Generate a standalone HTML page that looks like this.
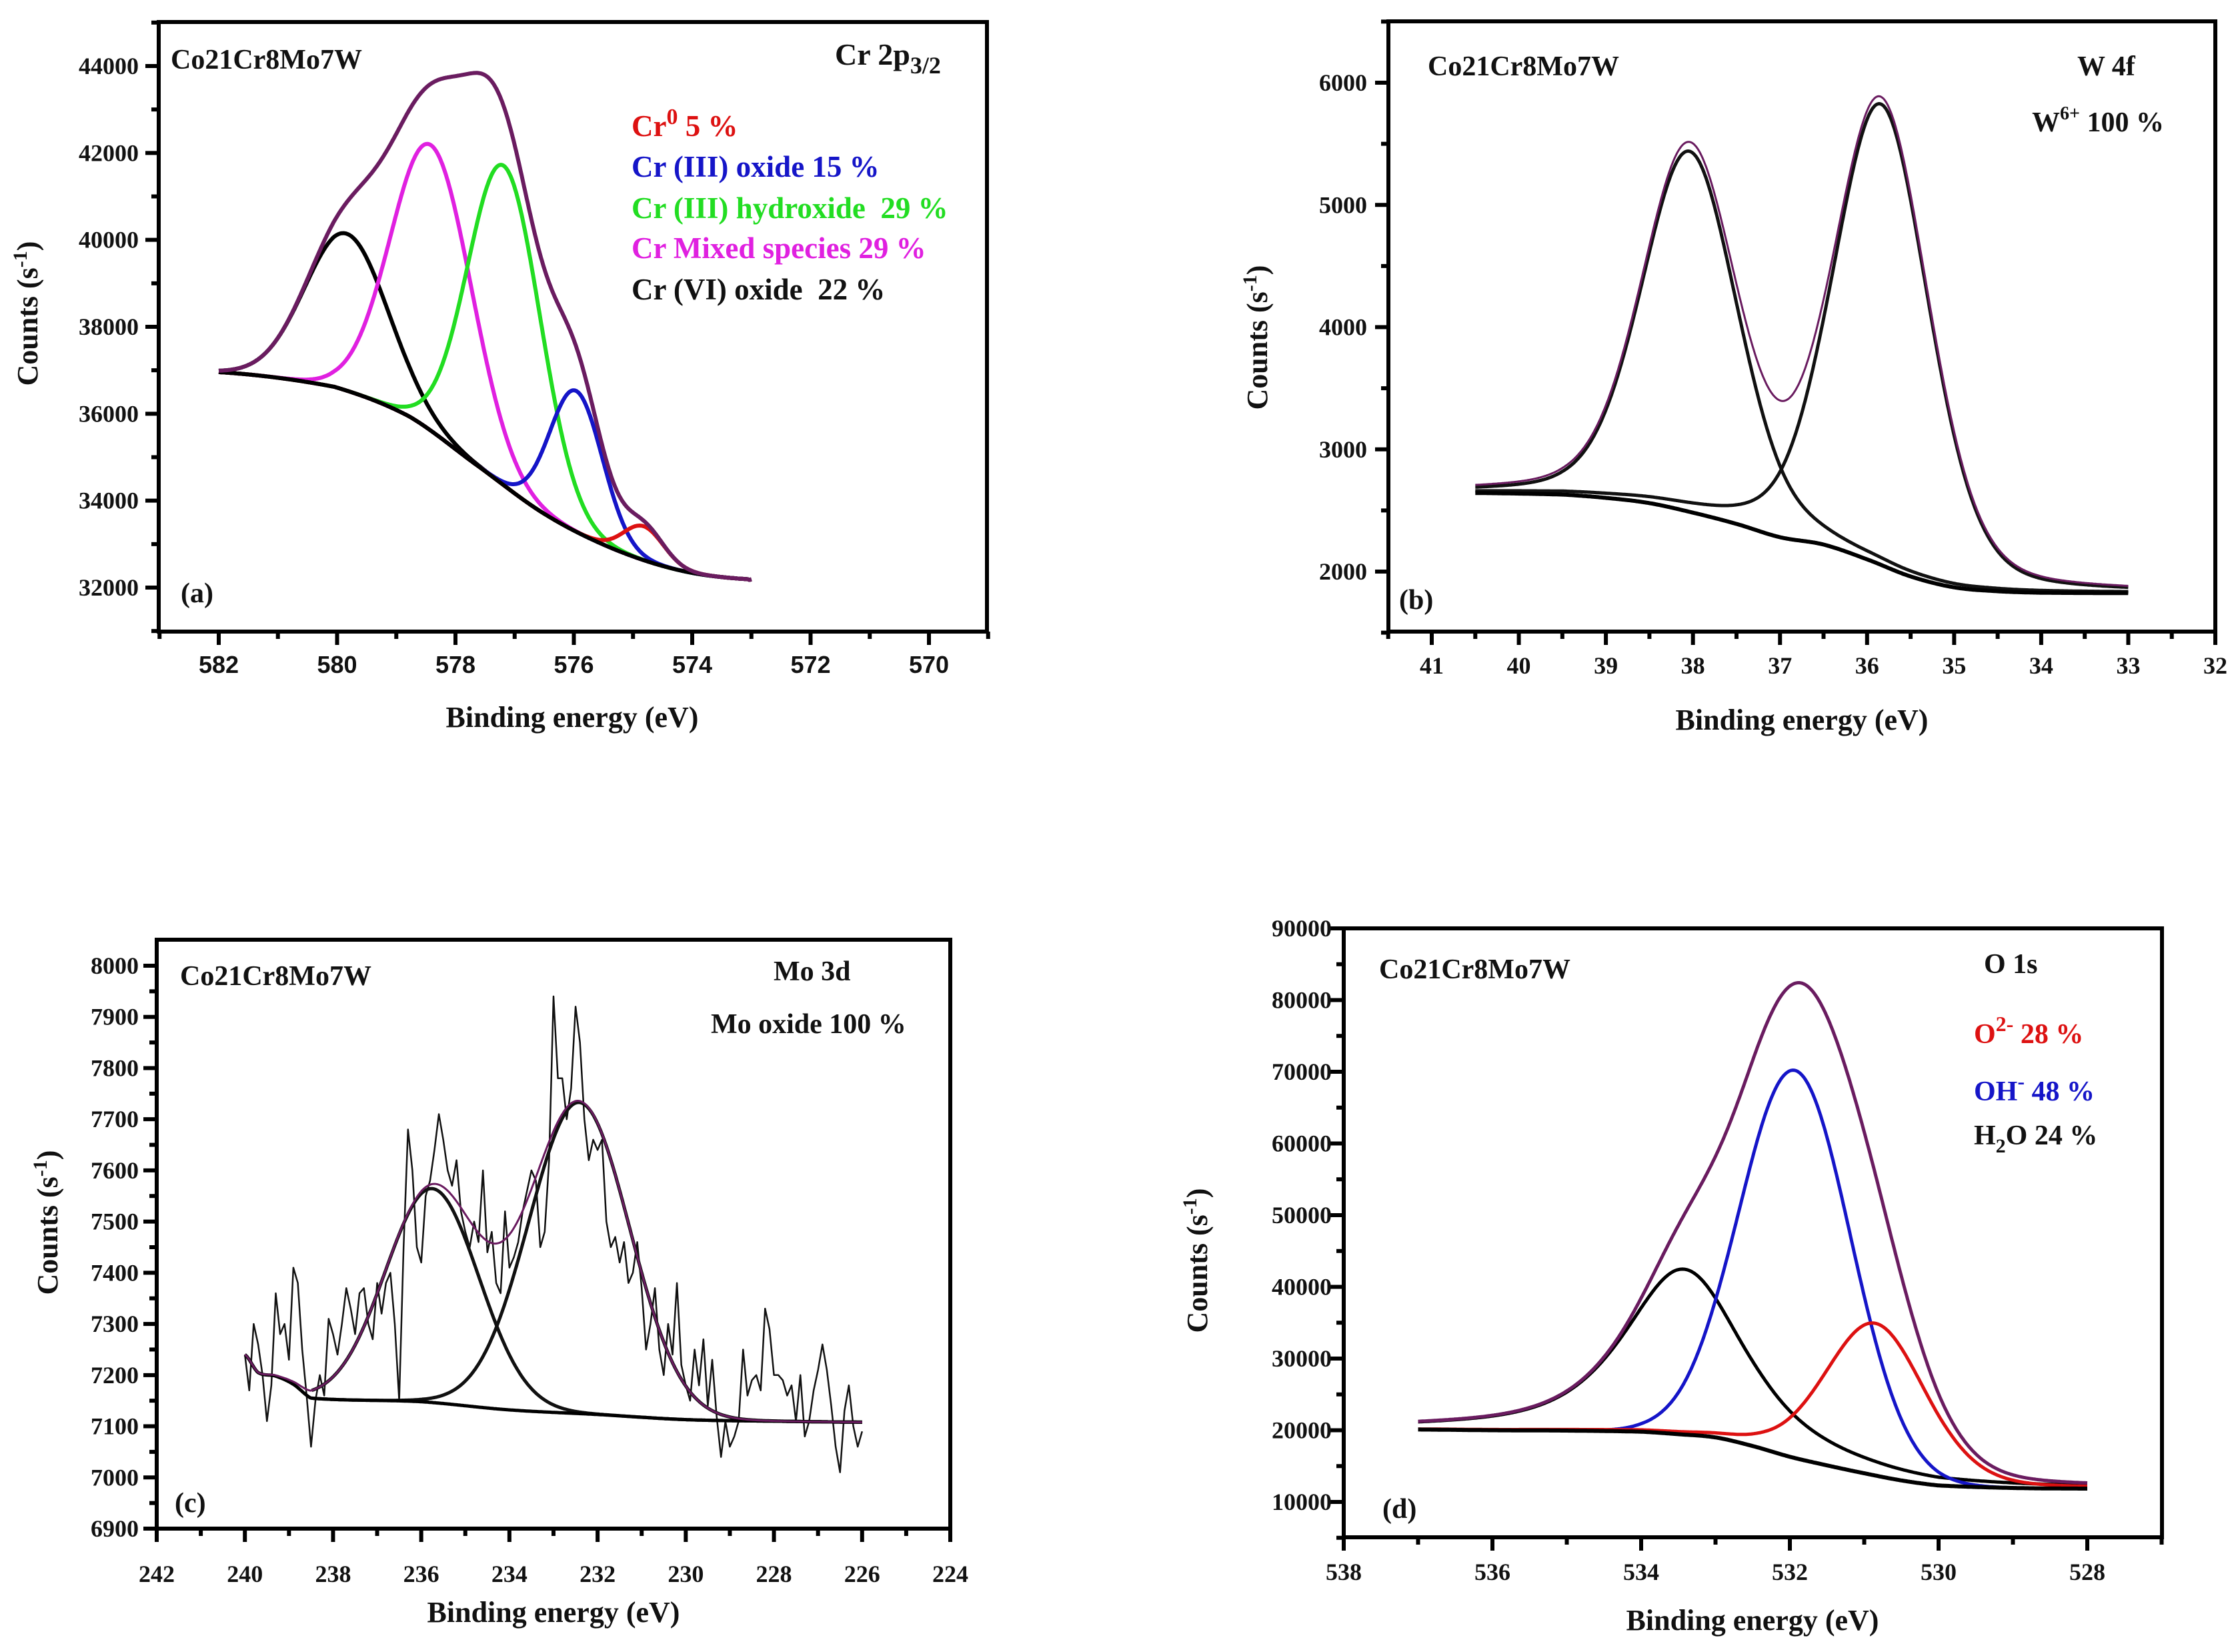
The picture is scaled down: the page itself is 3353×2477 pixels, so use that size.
<!DOCTYPE html>
<html><head><meta charset="utf-8"><style>
html,body{margin:0;padding:0;background:#fff;}
svg{display:block;}
text{font-family:"Liberation Serif",serif;font-weight:bold;fill:#111;}
</style></head><body>
<svg id="fig" width="3353" height="2477" viewBox="0 0 3353 2477" xmlns="http://www.w3.org/2000/svg">
<rect x="0" y="0" width="3353" height="2477" fill="#fff"/>
<g font-size="45">
<text x="256" y="103" font-size="42">Co21Cr8Mo7W</text>
<text x="1252" y="97" font-size="46">Cr 2p<tspan font-size="36" dy="13">3/2</tspan></text>
<text x="947" y="204" style="fill:#dd1111">Cr<tspan font-size="34" dy="-18">0</tspan><tspan dy="18"> 5 %</tspan></text>
<text x="947" y="265" style="fill:#1515c8">Cr (III) oxide 15 %</text>
<text x="947" y="327" xml:space="preserve" style="fill:#22dd22">Cr (III) hydroxide  29 %</text>
<text x="947" y="387" style="fill:#e020e0">Cr Mixed species 29 %</text>
<text x="947" y="449" xml:space="preserve">Cr (VI) oxide  22 %</text>
<text x="271" y="903" font-size="42">(a)</text>
</g>
<g font-size="42">
<text x="2141" y="113">Co21Cr8Mo7W</text>
<text x="3115" y="113">W 4f</text>
<text x="3047" y="197">W<tspan font-size="28" dy="-18">6+</tspan><tspan dy="18"> 100 %</tspan></text>
<text x="2098" y="913">(b)</text>
</g>
<g font-size="42">
<text x="270" y="1477">Co21Cr8Mo7W</text>
<text x="1160" y="1470">Mo 3d</text>
<text x="1066" y="1549">Mo oxide 100 %</text>
<text x="262" y="2267">(c)</text>
</g>
<g font-size="42">
<text x="2068" y="1467">Co21Cr8Mo7W</text>
<text x="2975" y="1459">O 1s</text>
<text x="2960" y="1564" style="fill:#dd1111">O<tspan font-size="32" dy="-18">2-</tspan><tspan dy="18"> 28 %</tspan></text>
<text x="2960" y="1650" style="fill:#1515c8">OH<tspan font-size="32" dy="-18">-</tspan><tspan dy="18"> 48 %</tspan></text>
<text x="2960" y="1716">H<tspan font-size="30" dy="12">2</tspan><tspan dy="-12">O 24 %</tspan></text>
<text x="2073" y="2276">(d)</text>
</g>
</svg>
<script>
// ===== Panel (a) Cr 2p3/2 data =====
const aXTicks = [582, 580, 578, 576, 574, 572, 570];
const aYTicks = [32000, 34000, 36000, 38000, 40000, 42000, 44000];
const aBgX = [582, 580.05, 578.79, 577.64, 576.49, 575.35, 574.2, 573.05, 573];
const aBgY = [36958, 36620, 35944, 34817, 33690, 32901, 32394, 32191, 32190];
const aCenters = [579.84, 578.41, 577.18, 575.96, 574.82];
const aHeights = [3610, 6570, 7350, 3240, 780];
const aFwhm = [1.65, 1.6, 1.44, 1.05, 0.8];
const aEta = [0, 0, 0, 0, 0];
const aNames = ['cr6-oxide', 'cr-mixed', 'cr3-hydroxide', 'cr3-oxide', 'cr0'];
// ===== Panel (b) W 4f data =====
const bXTicks = [41, 40, 39, 38, 37, 36, 35, 34, 33, 32];
const bYTicks = [2000, 3000, 4000, 5000, 6000];
const bBgX = [40.5, 39.5, 39, 38.5, 38, 37.5, 37, 36.5, 36, 35.5, 35, 34.5, 34, 33];
const bBgY = [2643, 2630, 2603, 2560, 2482, 2390, 2281, 2221, 2100, 1960, 1871, 1839, 1827, 1824];
const bCenters = [38.04, 35.84];
const bHeights = [2950, 3770];
const bFwhm = [1.3, 1.3];
const bEta = [0.25, 0.25];
// ===== Panel (c) Mo 3d data =====
const cXTicks = [242, 240, 238, 236, 234, 232, 230, 228, 226, 224];
const cYTicks = [6900, 7000, 7100, 7200, 7300, 7400, 7500, 7600, 7700, 7800, 7900, 8000];
const cRawStart = 240.0;
const cRawStep = 0.1;
const cRaw = [7240,7170,7300,7260,7200,7110,7180,7360,7280,7300,7230,
7410,7380,7250,7160,7060,7150,7200,7160,7310,7280,
7240,7300,7370,7330,7280,7360,7370,7300,7270,7380,
7320,7380,7400,7300,7150,7450,7680,7600,7450,7420,
7550,7580,7640,7710,7660,7600,7570,7620,7520,7480,
7450,7500,7460,7600,7440,7480,7380,7360,7520,7410,
7430,7460,7520,7560,7600,7580,7450,7480,7620,7940,
7780,7780,7700,7760,7920,7850,7700,7620,7660,7640,
7660,7500,7450,7470,7420,7460,7380,7400,7460,7370,
7250,7300,7370,7250,7200,7300,7240,7380,7220,7180,
7150,7250,7180,7270,7140,7230,7120,7040,7110,7060,
7080,7110,7250,7160,7190,7200,7170,7330,7290,7200,
7200,7190,7160,7180,7110,7200,7080,7110,7170,7210,
7260,7210,7140,7060,7010,7130,7180,7100,7060,7090];
const cBgX = [240, 239.7, 239.3, 238.9, 238.5, 236, 234, 232, 230, 228, 226];
const cBgY = [7240, 7205, 7198, 7182, 7155, 7148, 7132, 7123, 7113, 7110, 7108];
const cCenters = [235.75, 232.42];
const cHeights = [418, 608];
const cFwhm = [2.5, 2.7];
const cEta = [0, 0];
// ===== Panel (d) O 1s data =====
const dXTicks = [538, 536, 534, 532, 530, 528];
const dYTicks = [10000, 20000, 30000, 40000, 50000, 60000, 70000, 80000, 90000];
const dBgX = [537, 536, 535, 534, 533.5, 533, 532.5, 532, 531.5, 531, 530.5, 530, 529, 528];
const dBgY = [20100, 20000, 19950, 19800, 19450, 19000, 17800, 16300, 15100, 14000, 13000, 12300, 11950, 11860];
const dCenters = [533.43, 531.93, 530.85];
const dHeights = [23070, 54070, 21230];
const dFwhm = [1.9, 1.75, 1.6];
const dEta = [0.7, 0, 0.2];
const dNames = ['h2o', 'oh', 'o2'];

const NS = 'http://www.w3.org/2000/svg';
const svg = document.getElementById('fig');
const ENV = '#6a1c60';

function mk(tag, attrs, parent) {
  const e = document.createElementNS(NS, tag);
  for (const k in attrs) e.setAttribute(k, attrs[k]);
  (parent || svg).appendChild(e);
  return e;
}
function linMap(d0, d1, p0, p1) { return v => p0 + (v - d0) * (p1 - p0) / (d1 - d0); }
function interp(xs, ys, x) {
  const n = xs.length;
  const asc = xs[n - 1] > xs[0];
  let i = 0;
  for (i = 0; i < n - 2; i++) { if (asc ? x <= xs[i + 1] : x >= xs[i + 1]) break; }
  const x0 = xs[i], x1 = xs[i + 1];
  let t = (x - x0) / (x1 - x0); t = Math.max(0, Math.min(1, t));
  const p0 = ys[Math.max(0, i - 1)], p1 = ys[i], p2 = ys[i + 1], p3 = ys[Math.min(n - 1, i + 2)];
  const t2 = t * t, t3 = t2 * t;
  return 0.5 * ((2 * p1) + (-p0 + p2) * t + (2 * p0 - 5 * p1 + 4 * p2 - p3) * t2 + (-p0 + 3 * p1 - 3 * p2 + p3) * t3);
}
function pv(x, c, h, w, eta) {
  const d = (x - c) / w;
  return h * ((1 - eta) * Math.exp(-4 * Math.LN2 * d * d) + eta / (1 + 4 * d * d));
}
function pathFrom(pts, sx, sy) {
  return pts.map((p, i) => (i ? 'L' : 'M') + sx(p[0]).toFixed(1) + ' ' + sy(p[1]).toFixed(1)).join(' ');
}
function grid(from, to, n) { const a = []; for (let i = 0; i <= n; i++) a.push(from + (to - from) * i / n); return a; }

function drawAxes(g, P) {
  const frame = mk('rect', { x: P.l, y: P.t, width: P.r - P.l, height: P.b - P.t, fill: 'none', stroke: '#000', 'stroke-width': 6 }, g);
  
  
  const xg = mk('g', {}, g);
  
  
  for (let v = P.xMinorFrom; v >= P.xMinorTo - 1e-9; v -= P.xMinor) {
    const px = P.sx(v);
    if (px < P.l - 2 || px > P.r + 2) continue;
    const isMajor = P.xTicks.some(t => Math.abs(t - v) < 1e-6);
    mk('line', { x1: px, x2: px, y1: P.b, y2: P.b + (isMajor ? 20 : 11), stroke: '#000', 'stroke-width': 6 }, xg);
  }
  P.xTicks.forEach(v => {
    const t = mk('text', { x: P.sx(v), y: P.xLabY, 'text-anchor': 'middle', 'font-size': P.tickFs, style: P.xSans ? 'font-family:"Liberation Sans",sans-serif' : '' }, xg);
    t.textContent = v;
    
    
  });
  const yg = mk('g', {}, g);
  
  
  for (let v = P.yMinorFrom; v <= P.yMinorTo + 1e-9; v += P.yMinor) {
    const py = P.sy(v);
    if (py < P.t - 2 || py > P.b + 2) continue;
    const isMajor = P.yTicks.some(t => Math.abs(t - v) < 1e-6);
    mk('line', { x1: P.l, x2: P.l - (isMajor ? 20 : 11), y1: py, y2: py, stroke: '#000', 'stroke-width': 6 }, yg);
  }
  P.yTicks.forEach(v => {
    const t = mk('text', { x: P.yLabX, y: P.sy(v) + 12, 'text-anchor': 'end', 'font-size': P.tickFs }, yg);
    t.textContent = v;
    
    
  });
  const xt = mk('text', { x: P.xTitleX, y: P.xTitleY, 'text-anchor': 'middle', 'font-size': 44 }, g);
  xt.textContent = 'Binding energy (eV)';
  
  
  const yt = mk('text', { x: 0, y: 0, 'text-anchor': 'middle', 'font-size': 44, transform: 'translate(' + P.yTitleX + ',' + P.yTitleY + ') rotate(-90)' }, g);
  yt.innerHTML = 'Counts (s<tspan font-size="30" dy="-16">-1</tspan><tspan dy="16">)</tspan>';
  
  
}

function drawFit(g, P, bgX, bgY, centers, heights, fwhm, eta, colors, names, xFrom, xTo, compFrom, widths) {
  const xs = grid(xFrom, xTo, 600);
  const bg = x => interp(bgX, bgY, x);
  centers.forEach((c, i) => {
    const cx = xs.filter(x => x <= compFrom + 1e-9);
    const pts = cx.map(x => [x, bg(x) + pv(x, c, heights[i], fwhm[i], eta[i])]);
    const p = mk('path', { d: pathFrom(pts, P.sx, P.sy), fill: 'none', stroke: colors[i], 'stroke-width': widths.comp, 'stroke-linejoin': 'round' }, g);
    
    
  });
  const bp = mk('path', { d: pathFrom(xs.map(x => [x, bg(x)]), P.sx, P.sy), fill: 'none', stroke: '#000', 'stroke-width': widths.bg }, g);
  
  
  const env = xs.map(x => [x, bg(x) + centers.reduce((s, c, i) => s + pv(x, c, heights[i], fwhm[i], eta[i]), 0)]);
  const ep = mk('path', { d: pathFrom(env, P.sx, P.sy), fill: 'none', stroke: ENV, 'stroke-width': widths.env }, g);
  
  
}

function panel(id) {
  const g = mk('g', {});
  
  
  return g;
}

(function () {
  const P = { id: 'panel-a', l: 238, r: 1480, t: 33, b: 947,
    sx: linMap(582, 570, 328, 1393), sy: linMap(44000, 32000, 99, 881),
    xTicks: aXTicks, yTicks: aYTicks, xMinor: 1, xMinorFrom: 583, xMinorTo: 569,
    yMinor: 1000, yMinorFrom: 31000, yMinorTo: 45000, tickFs: 36, xSans: true,
    xLabY: 1009, yLabX: 208, xTitleX: 858, xTitleY: 1090, yTitleX: 56, yTitleY: 470 };
  const g = panel('panel-a-cr2p');
  drawAxes(g, P);
  drawFit(g, P, aBgX, aBgY, aCenters, aHeights, aFwhm, aEta,
    ['#000', '#e020e0', '#22dd22', '#1515c8', '#dd1111'], aNames, 582, 573, 582, { comp: 6, bg: 6, env: 6 });
})();
(function () {
  const P = { id: 'panel-b', l: 2082, r: 3322, t: 32, b: 947,
    sx: linMap(41, 32, 2147, 3322), sy: linMap(6000, 2000, 124, 857),
    xTicks: bXTicks, yTicks: bYTicks, xMinor: 0.5, xMinorFrom: 41.5, xMinorTo: 32,
    yMinor: 500, yMinorFrom: 1500, yMinorTo: 6500, tickFs: 36,
    xLabY: 1010, yLabX: 2050, xTitleX: 2702, xTitleY: 1094, yTitleX: 1900, yTitleY: 506 };
  const g = panel('panel-b-w4f');
  drawAxes(g, P);
  drawFit(g, P, bBgX, bBgY, bCenters, bHeights, bFwhm, bEta, ['#111', '#111'], ['w4f7', 'w4f5'], 40.5, 33, 40.5, { comp: 5, bg: 6, env: 3 });
})();
(function () {
  const P = { id: 'panel-c', l: 235, r: 1425, t: 1409, b: 2292,
    sx: linMap(242, 224, 235, 1425), sy: linMap(8000, 6900, 1448, 2292),
    xTicks: cXTicks, yTicks: cYTicks, xMinor: 1, xMinorFrom: 242, xMinorTo: 224,
    yMinor: 50, yMinorFrom: 6900, yMinorTo: 8000, tickFs: 36,
    xLabY: 2372, yLabX: 208, xTitleX: 830, xTitleY: 2432, yTitleX: 86, yTitleY: 1833 };
  const g = panel('panel-c-mo3d');
  drawAxes(g, P);
  const pts = cRaw.map((v, i) => [cRawStart - i * cRawStep, v]);
  const rp = mk('path', { d: pathFrom(pts, P.sx, P.sy), fill: 'none', stroke: '#111', 'stroke-width': 2.5, 'stroke-linejoin': 'round' }, g);
  
  
  drawFit(g, P, cBgX, cBgY, cCenters, cHeights, cFwhm, cEta, ['#111', '#111'], ['mo3d5', 'mo3d3'], 240, 226, 238.5, { comp: 5, bg: 5, env: 3 });
})();
(function () {
  const P = { id: 'panel-d', l: 2015, r: 3242, t: 1392, b: 2305,
    sx: linMap(538, 528, 2015, 3130), sy: linMap(90000, 10000, 1392, 2252),
    xTicks: dXTicks, yTicks: dYTicks, xMinor: 1, xMinorFrom: 538, xMinorTo: 527,
    yMinor: 5000, yMinorFrom: 5000, yMinorTo: 90000, tickFs: 36,
    xLabY: 2369, yLabX: 1997, xTitleX: 2628, xTitleY: 2444, yTitleX: 1810, yTitleY: 1890 };
  const g = panel('panel-d-o1s');
  drawAxes(g, P);
  drawFit(g, P, dBgX, dBgY, dCenters, dHeights, dFwhm, dEta, ['#000', '#1515c8', '#dd1111'], dNames, 537, 528, 537, { comp: 5, bg: 6, env: 5 });
})();
</script>
</body></html>
